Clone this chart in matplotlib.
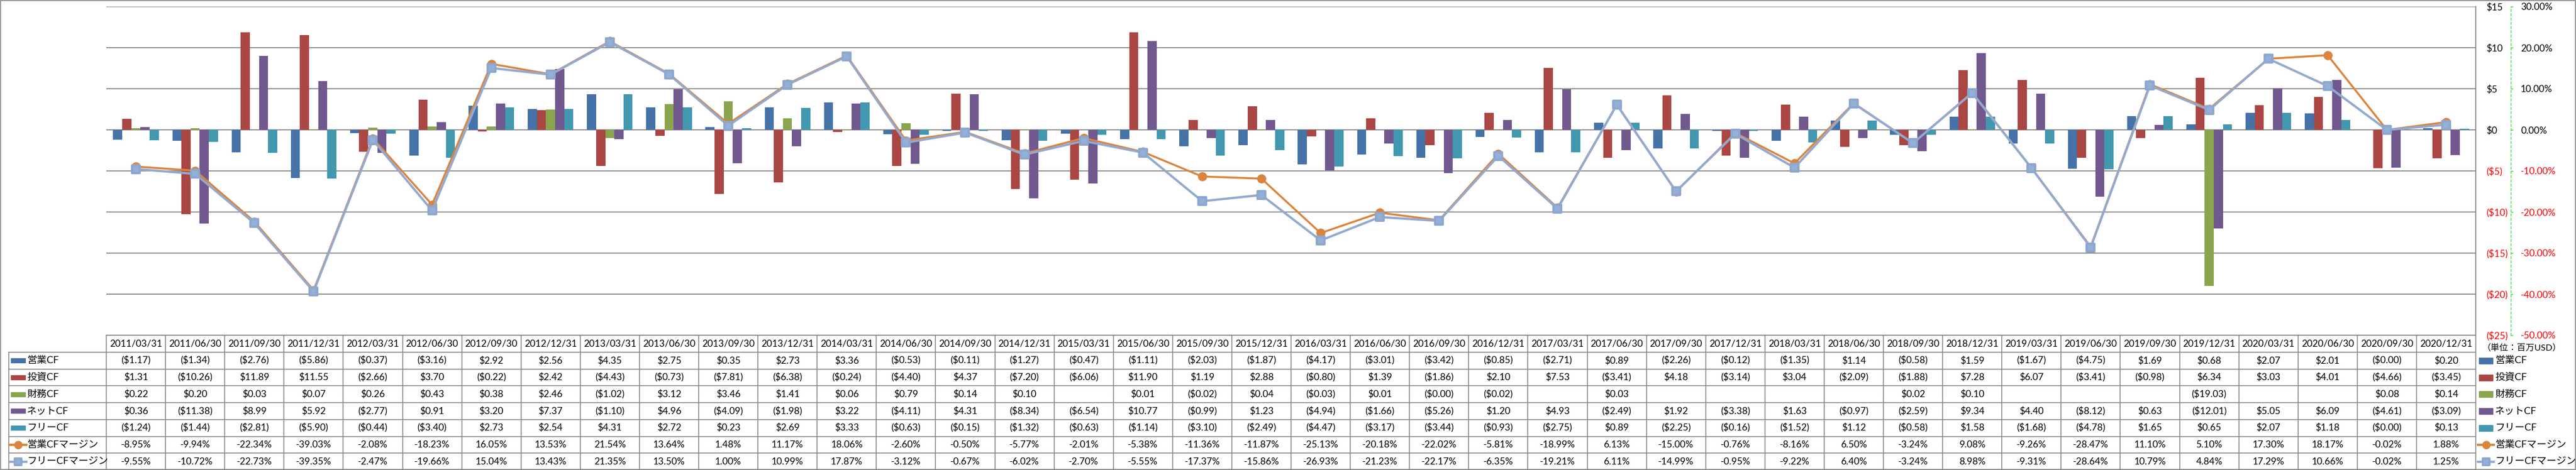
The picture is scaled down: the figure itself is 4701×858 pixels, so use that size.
import numpy as np
import matplotlib
matplotlib.use('Agg')
import matplotlib.pyplot as plt
from matplotlib.markers import MarkerStyle
from matplotlib.patches import Rectangle

plt.rcParams['font.family'] = ['Lato', 'Noto Sans CJK JP', 'DejaVu Sans']
plt.rcParams['text.parse_math'] = False

dates = ['2011/03/31', '2011/06/30', '2011/09/30', '2011/12/31',
         '2012/03/31', '2012/06/30', '2012/09/30', '2012/12/31',
         '2013/03/31', '2013/06/30', '2013/09/30', '2013/12/31',
         '2014/03/31', '2014/06/30', '2014/09/30', '2014/12/31',
         '2015/03/31', '2015/06/30', '2015/09/30', '2015/12/31',
         '2016/03/31', '2016/06/30', '2016/09/30', '2016/12/31',
         '2017/03/31', '2017/06/30', '2017/09/30', '2017/12/31',
         '2018/03/31', '2018/06/30', '2018/09/30', '2018/12/31',
         '2019/03/31', '2019/06/30', '2019/09/30', '2019/12/31',
         '2020/03/31', '2020/06/30', '2020/09/30', '2020/12/31']

nan = np.nan
op_cf = [-1.17, -1.34, -2.76, -5.86, -0.37, -3.16, 2.92, 2.56, 4.35, 2.75,
         0.35, 2.73, 3.36, -0.53, -0.11, -1.27, -0.47, -1.11, -2.03, -1.87,
         -4.17, -3.01, -3.42, -0.85, -2.71, 0.89, -2.26, -0.12, -1.35, 1.14,
         -0.58, 1.59, -1.67, -4.75, 1.69, 0.68, 2.07, 2.01, -0.001, 0.20]
inv_cf = [1.31, -10.26, 11.89, 11.55, -2.66, 3.70, -0.22, 2.42, -4.43, -0.73,
          -7.81, -6.38, -0.24, -4.40, 4.37, -7.20, -6.06, 11.90, 1.19, 2.88,
          -0.80, 1.39, -1.86, 2.10, 7.53, -3.41, 4.18, -3.14, 3.04, -2.09,
          -1.88, 7.28, 6.07, -3.41, -0.98, 6.34, 3.03, 4.01, -4.66, -3.45]
fin_cf = [0.22, 0.20, 0.03, 0.07, 0.26, 0.43, 0.38, 2.46, -1.02, 3.12,
          3.46, 1.41, 0.06, 0.79, 0.14, 0.10, nan, 0.01, -0.02, 0.04,
          -0.03, 0.01, -0.001, -0.02, nan, 0.03, nan, nan, nan, nan,
          0.02, 0.10, nan, nan, nan, -19.03, nan, nan, 0.08, 0.14]
net_cf = [0.36, -11.38, 8.99, 5.92, -2.77, 0.91, 3.20, 7.37, -1.10, 4.96,
          -4.09, -1.98, 3.22, -4.11, 4.31, -8.34, -6.54, 10.77, -0.99, 1.23,
          -4.94, -1.66, -5.26, 1.20, 4.93, -2.49, 1.92, -3.38, 1.63, -0.97,
          -2.59, 9.34, 4.40, -8.12, 0.63, -12.01, 5.05, 6.09, -4.61, -3.09]
free_cf = [-1.24, -1.44, -2.81, -5.90, -0.44, -3.40, 2.73, 2.54, 4.31, 2.72,
           0.23, 2.69, 3.33, -0.63, -0.15, -1.32, -0.63, -1.14, -3.10, -2.49,
           -4.47, -3.17, -3.44, -0.93, -2.75, 0.89, -2.25, -0.16, -1.52, 1.12,
           -0.58, 1.58, -1.68, -4.78, 1.65, 0.65, 2.07, 1.18, -0.001, 0.13]
op_margin = [-8.95, -9.94, -22.34, -39.03, -2.08, -18.23, 16.05, 13.53, 21.54, 13.64,
             1.48, 11.17, 18.06, -2.60, -0.50, -5.77, -2.01, -5.38, -11.36, -11.87,
             -25.13, -20.18, -22.02, -5.81, -18.99, 6.13, -15.00, -0.76, -8.16, 6.50,
             -3.24, 9.08, -9.26, -28.47, 11.10, 5.10, 17.30, 18.17, -0.02, 1.88]
fcf_margin = [-9.55, -10.72, -22.73, -39.35, -2.47, -19.66, 15.04, 13.43, 21.35, 13.50,
              1.00, 10.99, 17.87, -3.12, -0.67, -6.02, -2.70, -5.55, -17.37, -15.86,
              -26.93, -21.23, -22.17, -6.35, -19.21, 6.11, -14.99, -0.95, -9.22, 6.40,
              -3.24, 8.98, -9.31, -28.64, 10.79, 4.84, 17.29, 10.66, -0.02, 1.25]

bar_names = ['営業CF', '投資CF', '財務CF', 'ネットCF', 'フリーCF']
bar_series = [op_cf, inv_cf, fin_cf, net_cf, free_cf]
bar_colors = ['#4572A7', '#AA4643', '#89A54E', '#71588F', '#4198AF']
line_names = ['営業CFマージン', 'フリーCFマージン']
line_series = [op_margin, fcf_margin]
line_colors = ['#DB843D', '#93A9CF']
unit_label = '（単位：百万USD）'


def usd(v, tick=False):
    if np.isnan(v):
        return ''
    if tick:
        return '(${:.0f})'.format(-v) if v < 0 else '${:.0f}'.format(v)
    return '(${:.2f})'.format(-v) if v < 0 else '${:.2f}'.format(v)


W, H = 4701, 858
L, R, T, B = 194, 4518, 12, 612
fig = plt.figure(figsize=(W / 100, H / 100), dpi=100)
ax = fig.add_axes([L / W, 1 - B / H, (R - L) / W, (B - T) / H])

n = len(dates)
x = np.arange(n)
bw = 0.154
for k, (vals, c) in enumerate(zip(bar_series, bar_colors)):
    ax.bar(x + (k - 2) * bw, np.array(vals, float), width=bw, color=c, zorder=3)

ax2 = ax.twinx()

ax.set_xlim(-0.5, n - 0.5)
ax.set_ylim(-25, 15)
yt = np.arange(-25, 16, 5)
ax.set_yticks(yt, [usd(v, True) for v in yt])
ax.yaxis.tick_right()
ax.tick_params(axis='y', which='both', left=False, labelleft=False,
               right=True, labelright=True, length=0, pad=13.5, labelsize=12.5)
ax.set_xticks([])
ax.set_axisbelow(True)
ax.grid(axis='y', color='#868686', lw=1.3)
for s in ['top', 'left', 'bottom']:
    ax.spines[s].set_visible(False)
ax.spines['right'].set_color('#868686')
ax.spines['right'].set_linewidth(1.3)
for lab, v in zip(ax.get_yticklabels(which='both'), yt):
    lab.set_color('red' if v < 0 else 'black')

ax2.set_ylim(-50, 30)
pt = np.arange(-50, 31, 10)
ax2.set_yticks(pt, ['{:.2f}%'.format(v) for v in pt])
for s in ['top', 'left', 'bottom']:
    ax2.spines[s].set_visible(False)
ax2.spines['right'].set_position(('axes', 1 + 64 / (R - L)))
ax2.spines['right'].set_linestyle((0, (4, 3)))
ax2.spines['right'].set_color('#22DD22')
ax2.tick_params(axis='y', length=3, width=1, color='#22DD22', pad=10, labelsize=12.5)
for lab, v in zip(ax2.get_yticklabels(), pt):
    lab.set_color('red' if v < 0 else 'black')

sq = MarkerStyle('s', joinstyle='round')
ax2.plot(x, op_margin, color=line_colors[0], lw=2.6, marker='o', ms=11, zorder=4)
ax2.plot(x, fcf_margin, color=line_colors[1], lw=3, marker=sq, ms=10,
         mfc='#95B0D6', mec='#8DA7CE', mew=3, zorder=5)

# data table
tax = fig.add_axes([L / W, 0, (R - L) / W, (H - B) / H])
tax.set_xlim(-0.5, n - 0.5)
tax.set_ylim(H - B, 0)
tax.axis('off')
cw = (R - L) / n


def px(p):
    return -0.5 + (p - L) / cw


gc = '#888888'
hdr = 31
rh = 30.7
rows_y = [hdr + rh * k for k in range(8)]
tax.plot([-0.5, n - 0.5], [0, 0], color=gc, lw=1.2, clip_on=False)
for yy in rows_y:
    tax.plot([px(16), n - 0.5], [yy, yy], color=gc, lw=1.2, clip_on=False)
for j in range(n + 1):
    tax.plot([j - 0.5, j - 0.5], [0, rows_y[-1]], color=gc, lw=1.2, clip_on=False)
tax.plot([px(16), px(16)], [hdr, rows_y[-1]], color=gc, lw=1.2, clip_on=False)

for j, d in enumerate(dates):
    tax.text(j, hdr / 2, d, ha='center', va='center', fontsize=12.5)

table_rows = [[usd(v) for v in s] for s in bar_series]
table_rows += [['{:.2f}%'.format(v) for v in s] for s in line_series]
for r, vals in enumerate(table_rows):
    yc = hdr + rh * (r + 0.5)
    for j, t in enumerate(vals):
        tax.text(j, yc, t, ha='center', va='center', fontsize=12.5)


def swatch(x0, x1, yc, r, h):
    if r < 5:
        tax.add_patch(Rectangle((px(x0), yc - h / 2), px(x1) - px(x0), h,
                                color=bar_colors[r], clip_on=False))
    else:
        c = line_colors[r - 5]
        tax.plot([px(x0 - 2), px(x1 + 2)], [yc, yc], color=c, lw=3, clip_on=False)
        if r == 5:
            tax.plot([px((x0 + x1) / 2)], [yc], marker='o', ms=10, color=c, clip_on=False)
        else:
            tax.plot([px((x0 + x1) / 2)], [yc], marker=sq, ms=9, mfc='#95B0D6',
                     mec='#8DA7CE', mew=3, clip_on=False)


names = bar_names + line_names
for r, name in enumerate(names):
    yc = hdr + rh * (r + 0.5)
    swatch(20, 46, yc, r, 8)
    tax.text(px(49), yc, name, ha='left', va='center', fontsize=13)
    swatch(4524, 4549, yc, r, 11)
    tax.text(px(4553), yc, name, ha='left', va='center', fontsize=13)

tax.text(px(4530), 24, unit_label, ha='left', va='center', fontsize=11.5)

fig.add_artist(Rectangle((1 / W, 1 / H), (W - 2) / W, (H - 2) / H,
                         transform=fig.transFigure, fill=False, ec='#868686', lw=1.2))

fig.savefig('out.png', dpi=100)
